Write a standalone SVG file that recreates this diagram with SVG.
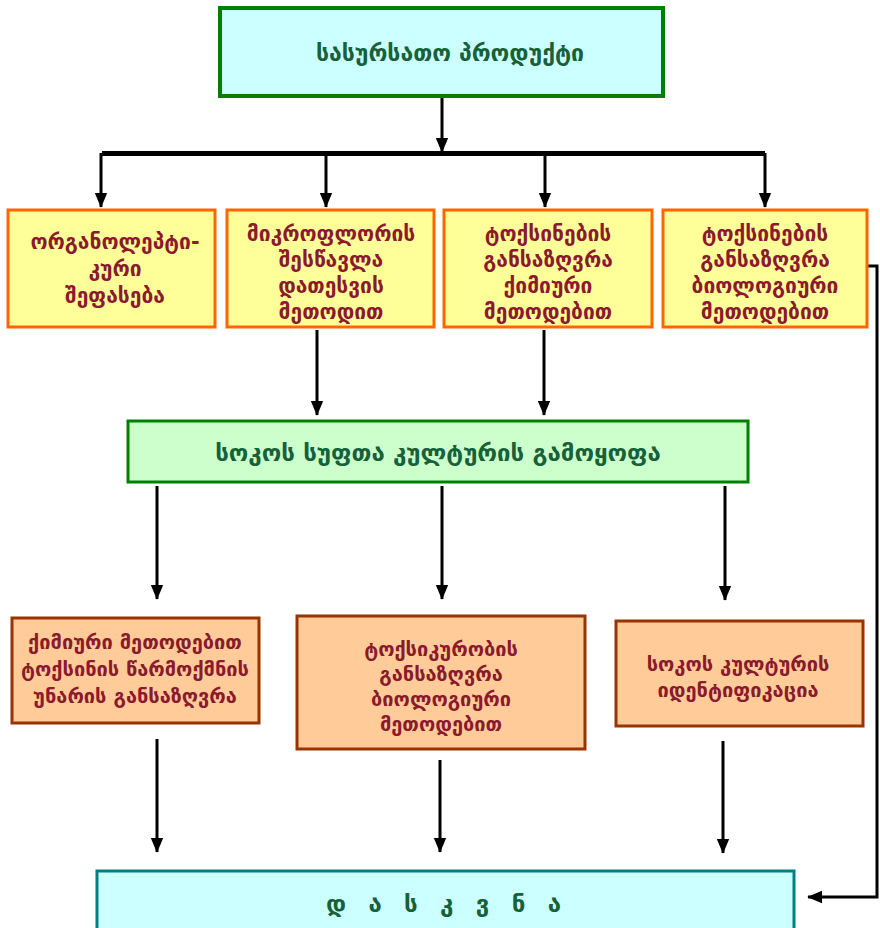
<svg xmlns="http://www.w3.org/2000/svg" width="880" height="928" viewBox="0 0 880 928">
  <defs>
    <marker id="arrow" markerUnits="userSpaceOnUse" markerWidth="15" markerHeight="15" refX="17" refY="7.5" orient="auto" viewBox="0 0 18 15">
      <path d="M0,0 L18,7.5 L0,15 z" fill="#000"/>
    </marker>
    <style>
      .txt { font-family: "DejaVu Sans", "Noto Sans", sans-serif; font-weight: bold; text-anchor: middle; }
      .green-t { fill: #17613a; font-size: 23px; }
      .big-t { font-size: 24px; }
      .red-t { fill: #8b1a2e; font-size: 20px; }
      .red-l { font-size: 21px; }
      .spaced { letter-spacing: 7px; }
      .top { fill: #ccffff; stroke: #008000; stroke-width: 4; }
      .method { fill: #ffff99; stroke: #ff6600; stroke-width: 3; }
      .culture { fill: #ccffcc; stroke: #008000; stroke-width: 3; }
      .test { fill: #ffcc99; stroke: #993300; stroke-width: 3; }
      .result { fill: #ccffff; stroke: #008080; stroke-width: 3; }
      .arr { stroke: #000; stroke-width: 3; fill: none; marker-end: url(#arrow); }
    </style>
  </defs>

  <!-- connectors -->
  <g id="connectors">
    <line class="arr" x1="442" y1="98" x2="442" y2="152"/>
    <line x1="102" y1="153.5" x2="765" y2="153.5" stroke="#000" stroke-width="5"/>
    <line class="arr" x1="101" y1="153" x2="101" y2="207"/>
    <line class="arr" x1="326" y1="153" x2="326" y2="207"/>
    <line class="arr" x1="545" y1="153" x2="545" y2="207"/>
    <line class="arr" x1="765" y1="153" x2="765" y2="207"/>
    <line class="arr" x1="317" y1="330" x2="317" y2="415"/>
    <line class="arr" x1="544" y1="330" x2="544" y2="415"/>
    <line class="arr" x1="157" y1="486" x2="157" y2="599"/>
    <line class="arr" x1="442" y1="486" x2="442" y2="599"/>
    <line class="arr" x1="725" y1="486" x2="725" y2="600"/>
    <line class="arr" x1="157" y1="739" x2="157" y2="852"/>
    <line class="arr" x1="440" y1="760" x2="440" y2="852"/>
    <line class="arr" x1="723" y1="741" x2="723" y2="853"/>
    <polyline class="arr" points="868,266 877,266 877,897 808,897"/>
  </g>

  <!-- top: food product -->
  <g id="product">
    <rect class="top" x="220" y="8" width="443" height="88"/>
    <text class="txt green-t" x="450" y="61">სასურსათო პროდუქტი</text>
  </g>

  <!-- analysis methods -->
  <g id="organoleptic">
    <rect class="method" x="8" y="210" width="207" height="117"/>
    <text class="txt red-t red-l" x="115" y="249">ორგანოლეპტი-</text>
    <text class="txt red-t red-l" x="115" y="276">კური</text>
    <text class="txt red-t red-l" x="115" y="303">შეფასება</text>
  </g>
  <g id="microflora">
    <rect class="method" x="227" y="210" width="207" height="117"/>
    <text class="txt red-t red-l" x="331" y="241">მიკროფლორის</text>
    <text class="txt red-t red-l" x="331" y="267">შესწავლა</text>
    <text class="txt red-t red-l" x="331" y="293">დათესვის</text>
    <text class="txt red-t red-l" x="331" y="319">მეთოდით</text>
  </g>
  <g id="toxins-chemical">
    <rect class="method" x="444" y="210" width="208" height="117"/>
    <text class="txt red-t red-l" x="548" y="241">ტოქსინების</text>
    <text class="txt red-t red-l" x="548" y="267">განსაზღვრა</text>
    <text class="txt red-t red-l" x="548" y="293">ქიმიური</text>
    <text class="txt red-t red-l" x="548" y="319">მეთოდებით</text>
  </g>
  <g id="toxins-biological">
    <rect class="method" x="663" y="210" width="204" height="117"/>
    <text class="txt red-t red-l" x="765" y="241">ტოქსინების</text>
    <text class="txt red-t red-l" x="765" y="267">განსაზღვრა</text>
    <text class="txt red-t red-l" x="765" y="293">ბიოლოგიური</text>
    <text class="txt red-t red-l" x="765" y="319">მეთოდებით</text>
  </g>

  <!-- pure culture isolation -->
  <g id="pure-culture">
    <rect class="culture" x="128" y="421" width="620" height="61"/>
    <text class="txt green-t big-t" x="438" y="461">სოკოს სუფთა კულტურის გამოყოფა</text>
  </g>

  <!-- culture tests -->
  <g id="toxin-ability">
    <rect class="test" x="12" y="618" width="247" height="105"/>
    <text class="txt red-t" x="135" y="649">ქიმიური მეთოდებით</text>
    <text class="txt red-t" x="135" y="676">ტოქსინის წარმოქმნის</text>
    <text class="txt red-t" x="135" y="703">უნარის განსაზღვრა</text>
  </g>
  <g id="toxicity">
    <rect class="test" x="297" y="616" width="288" height="133"/>
    <text class="txt red-t" x="441" y="656">ტოქსიკურობის</text>
    <text class="txt red-t" x="441" y="681">განსაზღვრა</text>
    <text class="txt red-t" x="441" y="706">ბიოლოგიური</text>
    <text class="txt red-t" x="441" y="731">მეთოდებით</text>
  </g>
  <g id="identification">
    <rect class="test" x="616" y="621" width="247" height="105"/>
    <text class="txt red-t" x="738" y="671">სოკოს კულტურის</text>
    <text class="txt red-t" x="738" y="697">იდენტიფიკაცია</text>
  </g>

  <!-- conclusion -->
  <g id="conclusion">
    <rect class="result" x="97" y="871" width="697" height="70"/>
    <text class="txt green-t big-t spaced" x="447" y="912">დ ა ს კ ვ ნ ა</text>
  </g>
</svg>
